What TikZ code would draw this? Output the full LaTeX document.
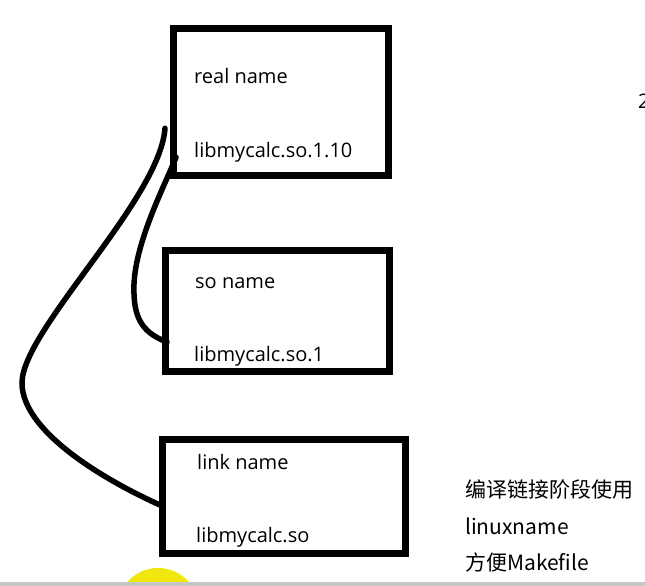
\documentclass[tikz,border=0pt]{standalone}
\usepackage{fontspec}
\setmainfont{Open Sans}
\newfontfamily\cjk{Noto Sans CJK SC}
\usetikzlibrary{calc}

\begin{document}
\begin{tikzpicture}[x=1pt,y=-1pt,
  box/.style={draw,line width=7pt,inner sep=0pt},
  lbl/.style={anchor=base west,inner sep=0pt,font=\fontsize{20}{24}\selectfont},
  note/.style={anchor=base west,inner sep=0pt,font=\cjk\fontsize{21}{24}\selectfont},
  wire/.style={line width=5.5pt,line cap=round}]
\clip (0,0) rectangle (645,586);
\useasboundingbox (0,0) rectangle (645,586);
%boxes
\node[box,minimum width=215pt,minimum height=146.5pt] (real) at (281,102.25) {};
\node[box,minimum width=224pt,minimum height=121pt] (soname) at (277.5,311) {};
\node[box,minimum width=243.5pt,minimum height=114pt] (link) at (283.75,496.5) {};
%texts in the boxes
\node[lbl] (realtop) at (194,84) {real name};
\node[lbl] (realbot) at (194,157) {libmycalc.so.1.10};
\node[lbl] (sotop) at (195,288) {so name};
\node[lbl] (sobot) at (194,361) {libmycalc.so.1};
\node[lbl] (linktop) at (197,469) {link name};
\node[lbl] (linkbot) at (196,542) {libmycalc.so};
%notes on the right
\node[note] (use) at (465,497) {编译链接阶段使用};
\node[note] (lx) at (465,534) {linuxname};
\node[note] (mk) at (465,570) {方便Makefile};
\node[lbl] (two) at (638,108) {2};
%links
\draw[wire] ($(link.west)+(1.5,8.5)$) .. controls (100,478) and (22,430) .. (22,383)
  .. controls (22,330) and (160,200) .. ($(real.west)+(-5,26)$);
\draw[wire] ($(soname.west)+(5,31)$) .. controls (140,332) and (133,315) .. (134,284)
  .. controls (136,240) and (165,185) .. ($(real.west)+(6,55)$);
%bottom
\fill[yellow!94!black] (158,609) circle (41);
\fill[gray!45] (0,582) rectangle (645,586);
\end{tikzpicture}
\end{document}
